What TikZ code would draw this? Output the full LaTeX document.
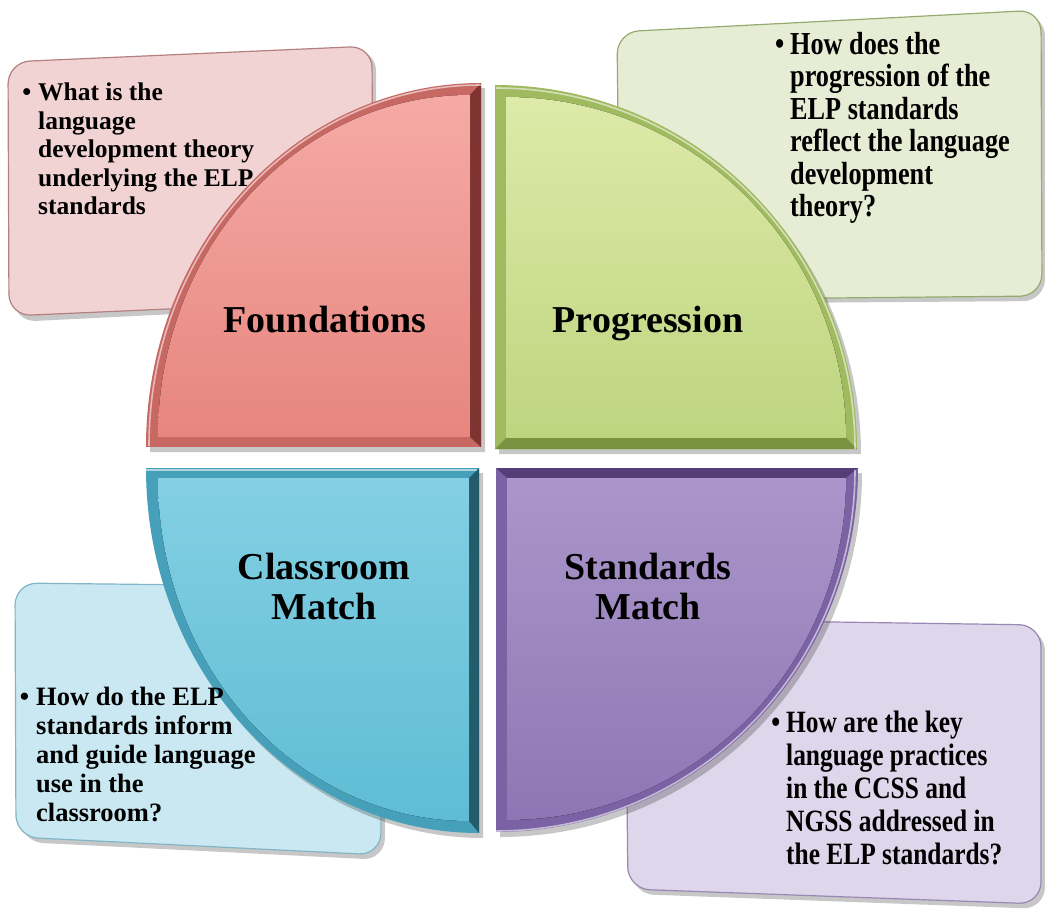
\documentclass[tikz,border=0pt]{standalone}
\usepackage{amsmath,amssymb}
\usepackage{fontspec}
\setmainfont{Liberation Serif}
\newfontfamily\narrowserif[FakeStretch=0.82]{Liberation Serif}

\begin{document}
\begin{tikzpicture}[x=1pt,y=1pt,yscale=-1,xscale=1,
    headtext/.style={font=\fontsize{38}{40}\selectfont\bfseries, align=center, inner sep=0, anchor=base},
    asktext/.style={align=left, inner sep=0, anchor=base west},
    dropshade/.style={fill=black, fill opacity=0.22},
    rim/.style={draw=white, draw opacity=0.55, line width=1.6}]
\useasboundingbox (0,0) rectangle (1045,909);

%Shape: Rounded Rect [id:dp0418277355] pink callout
\fill [dropshade, rounded corners=22] (12,66) -- (376,49) -- (377,304) -- (14,322) -- cycle ;
\draw [draw={rgb, 255:red, 180; green, 128; blue, 128 }, fill={rgb, 255:red, 242; green, 211; blue, 211 }, line width=1.2, rounded corners=22] (8,62) -- (372,46) -- (373,300) -- (9,316) -- cycle ;
%Shape: Rounded Rect [id:dp7730512948] green callout
\fill [dropshade, rounded corners=22] (621,36) -- (1045,14) -- (1045,301) -- (624,304) -- cycle ;
\draw [draw={rgb, 255:red, 150; green, 170; blue, 112 }, fill={rgb, 255:red, 230; green, 237; blue, 212 }, line width=1.2, rounded corners=22] (617,32) -- (1041,10) -- (1042,296) -- (620,300) -- cycle ;
%Shape: Rounded Rect [id:dp2269840153] blue callout
\fill [dropshade, rounded corners=22] (19,588) -- (384,592) -- (385,860) -- (21,842) -- cycle ;
\draw [draw={rgb, 255:red, 128; green, 182; blue, 198 }, fill={rgb, 255:red, 202; green, 232; blue, 242 }, line width=1.2, rounded corners=22] (15,583) -- (380,587) -- (381,855) -- (16,837) -- cycle ;
%Shape: Rounded Rect [id:dp5591307264] purple callout
\fill [dropshade, rounded corners=22] (629,624) -- (1045,629) -- (1045,909) -- (632,894) -- cycle ;
\draw [draw={rgb, 255:red, 152; green, 136; blue, 180 }, fill={rgb, 255:red, 222; green, 214; blue, 234 }, line width=1.2, rounded corners=22] (625,619) -- (1041,625) -- (1041,904) -- (628,889) -- cycle ;

%Shape: Sector [id:dp3318025071] Foundations
\fill [dropshade] (485,452) -- (150,452) arc[start angle=180, end angle=270, x radius=335, y radius=364] -- cycle ;
\fill [fill={rgb, 255:red, 200; green, 104; blue, 99 }] (481,447) -- (146,447) arc[start angle=180, end angle=270, x radius=335, y radius=364] -- cycle ;
\fill [fill={rgb, 255:red, 128; green, 52; blue, 50 }] (481,83) -- (481,447) -- (470,437) -- (470,95) -- cycle ;
\draw [rim] (149,446) arc[start angle=180, end angle=270, x radius=332, y radius=361] ;
\fill [top color={rgb, 255:red, 246; green, 170; blue, 165 }, bottom color={rgb, 255:red, 230; green, 134; blue, 127 }] (470,437) -- (158,437) arc[start angle=180, end angle=270, x radius=312, y radius=342] -- cycle ;

%Shape: Sector [id:dp8840156213] Progression
\fill [dropshade] (499,454) -- (499,90) arc[start angle=270, end angle=360, x radius=362, y radius=364] -- cycle ;
\fill [fill={rgb, 255:red, 160; green, 186; blue, 96 }] (495,449) -- (495,85) arc[start angle=270, end angle=360, x radius=362, y radius=364] -- cycle ;
\fill [fill={rgb, 255:red, 120; green, 146; blue, 64 }] (857,449) -- (495,449) -- (506,438) -- (846,438) -- cycle ;
\draw [rim] (496,88) arc[start angle=270, end angle=360, x radius=359, y radius=361] ;
\fill [top color={rgb, 255:red, 222; green, 234; blue, 168 }, bottom color={rgb, 255:red, 190; green, 213; blue, 128 }] (506,438) -- (506,97) arc[start angle=270, end angle=360, x radius=340, y radius=341] -- cycle ;

%Shape: Sector [id:dp1472093385] Classroom Match
\fill [dropshade] (483,473) -- (150,473) arc[start angle=180, end angle=90, x radius=333, y radius=365] -- cycle ;
\fill [fill={rgb, 255:red, 70; green, 160; blue, 186 }] (479,468) -- (146,468) arc[start angle=180, end angle=90, x radius=333, y radius=365] -- cycle ;
\fill [fill={rgb, 255:red, 36; green, 92; blue, 108 }] (479,468) -- (479,833) -- (469,821) -- (469,478) -- cycle ;
\draw [rim] (146,470) -- (477,470) ;
\fill [top color={rgb, 255:red, 132; green, 207; blue, 227 }, bottom color={rgb, 255:red, 94; green, 189; blue, 212 }] (469,478) -- (158,478) arc[start angle=180, end angle=90, x radius=311, y radius=343] -- cycle ;

%Shape: Sector [id:dp6603914728] Standards Match
\fill [dropshade] (500,473) -- (862,473) arc[start angle=0, end angle=90, x radius=362, y radius=364] -- cycle ;
\fill [fill={rgb, 255:red, 122; green, 98; blue, 164 }] (496,468) -- (858,468) arc[start angle=0, end angle=90, x radius=362, y radius=364] -- cycle ;
\fill [fill={rgb, 255:red, 84; green, 62; blue, 120 }] (858,468) -- (846,478) -- (507,478) -- (496,468) -- cycle ;
\draw [rim] (855,470) arc[start angle=0, end angle=90, x radius=359, y radius=361] ;
\fill [top color={rgb, 255:red, 170; green, 150; blue, 202 }, bottom color={rgb, 255:red, 142; green, 118; blue, 180 }] (507,478) -- (846,478) arc[start angle=0, end angle=90, x radius=339, y radius=342] -- cycle ;

% Text Node
\node [headtext] (foundlbl) at (325,333) {Foundations};
% Text Node
\node [headtext] (proglbl) at (648,333) {Progression};
% Text Node
\node [headtext] (classlbl) at (324,619) {Classroom\\Match};
% Text Node
\node [headtext] (stdlbl) at (648,619) {Standards\\Match};

% Text Node
\node [asktext, font=\fontsize{25.5}{28.5}\selectfont\bfseries] (foundask) at (38,215) {\llap{\textbullet\hspace{7pt}}What is the\\language\\development theory\\underlying the ELP\\standards};
% Text Node
\node [asktext, font=\narrowserif\fontsize{32}{32.5}\selectfont\bfseries] (progask) at (790,217) {\llap{\textbullet\hspace{6pt}}How does the\\progression of the\\ELP standards\\reflect the language\\development\\theory?};
% Text Node
\node [asktext, font=\fontsize{26.5}{29}\selectfont\bfseries] (classask) at (36,821) {\llap{\textbullet\hspace{7pt}}How do the ELP\\standards inform\\and guide language\\use in the\\classroom?};
% Text Node
\node [asktext, font=\narrowserif\fontsize{31}{33}\selectfont\bfseries] (stdask) at (786,864) {\llap{\textbullet\hspace{6pt}}How are the key\\language practices\\in the CCSS and\\NGSS addressed in\\the ELP standards?};

\end{tikzpicture}
\end{document}
